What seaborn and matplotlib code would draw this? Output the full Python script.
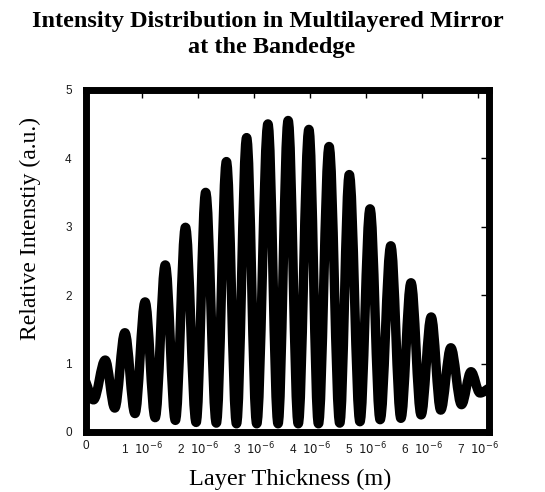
import numpy as np
import pandas as pd
import matplotlib
matplotlib.use("Agg")
import matplotlib.pyplot as plt
from matplotlib.path import Path
from matplotlib.patches import PathPatch
import seaborn as sns

# Layer thickness (units of 1e-6 m) at the curve's peaks/troughs
thickness_um = [0.00, 0.14, 0.35, 0.52, 0.70, 0.88, 1.06, 1.24, 1.42, 1.60,
                1.78, 1.97, 2.14, 2.33, 2.51, 2.69, 2.87, 3.05, 3.25, 3.43,
                3.61, 3.79, 3.98, 4.15, 4.34, 4.53, 4.70, 4.89, 5.07, 5.25,
                5.44, 5.62, 5.80, 5.98, 6.16, 6.33, 6.51, 6.70, 6.87, 7.03,
                7.19]
intensity = [0.74, 0.47, 1.05, 0.35, 1.45, 0.27, 1.90, 0.21, 2.44, 0.17,
             2.99, 0.14, 3.50, 0.13, 3.95, 0.12, 4.30, 0.12, 4.50, 0.12,
             4.55, 0.12, 4.42, 0.12, 4.17, 0.13, 3.76, 0.15, 3.26, 0.18,
             2.72, 0.20, 2.18, 0.25, 1.68, 0.32, 1.23, 0.40, 0.88, 0.57,
             0.64]

xtick_vals = [0, 1, 2, 3, 4, 5, 6, 7]
xtick_labels = ["0", "1  $10^{-6}$", "2  $10^{-6}$", "3  $10^{-6}$", "4  $10^{-6}$",
                "5  $10^{-6}$", "6  $10^{-6}$", "7  $10^{-6}$"]
ytick_vals = [0, 1, 2, 3, 4, 5]

df = pd.DataFrame({"x": np.array(thickness_um) * 1e-6, "y": intensity})

sns.set_style("white")
plt.rcParams["font.family"] = ["Liberation Sans", "DejaVu Sans"]
plt.rcParams["text.color"] = "black"

W, H = 545, 492
fig = plt.figure(figsize=(W / 100, H / 100), dpi=100)
L, R, T, B = 85.6, 488.7, 89.7, 432.0
ax = fig.add_axes([L / W, 1 - B / H, (R - L) / W, (B - T) / H])

# Smooth curve through the read extrema (horizontal tangents at peaks/troughs),
# drawn in data coordinates of the axes.
xs = df["x"].to_numpy()
ys = df["y"].to_numpy()
k = 0.3642
verts = [(xs[0], ys[0])]
codes = [Path.MOVETO]
n = len(xs)
for i in range(n - 1):
    x0, y0, x1, y1 = xs[i], ys[i], xs[i + 1], ys[i + 1]
    dx = x1 - x0
    if i == 0:
        c1 = (x0 + dx / 3, y0 + (y1 - y0) / 3)
    else:
        c1 = (x0 + k * dx, y0)
    if i == n - 2:
        c2 = (x1 - dx / 3, y1 - (y1 - y0) / 3)
    else:
        c2 = (x1 - k * dx, y1)
    verts += [c1, c2, (x1, y1)]
    codes += [Path.CURVE4] * 3
curve = PathPatch(Path(verts, codes), facecolor="none", edgecolor="black",
                  linewidth=6.8, joinstyle="round", capstyle="butt",
                  transform=ax.transData, clip_on=True)
ax.add_patch(curve)

ax.set_xlim(0, 7.185e-6)
ax.set_ylim(0, 5)
ax.set_xticks([v * 1e-6 for v in xtick_vals])
ax.set_xticklabels(xtick_labels)
ax.set_yticks(ytick_vals)
ax.set_yticklabels([str(v) for v in ytick_vals])
ax.set_xlabel("")
ax.set_ylabel("")

for s in ax.spines.values():
    s.set_visible(True)
    s.set_color("black")
    s.set_linewidth(5.0)

ax.tick_params(direction="in", length=5.5, width=1, colors="black",
               top=True, right=True, labelsize=8.5, labelcolor="#1a1a1a")
ax.tick_params(axis="x", pad=6)
ax.tick_params(axis="y", pad=10)
ax.grid(False)

serif = ["Liberation Serif", "DejaVu Serif"]
fig.text(268 / W, 1 - 26.7 / H, "Intensity Distribution in Multilayered Mirror",
         ha="center", va="baseline", fontsize=17.5, fontweight="bold", family=serif,
         color="black")
fig.text(272 / W, 1 - 53.3 / H, "at the Bandedge",
         ha="center", va="baseline", fontsize=17.5, fontweight="bold", family=serif,
         color="black")
fig.text(290 / W, 1 - 485 / H, "Layer Thickness (m)", ha="center", va="baseline",
         fontsize=17.5, family=serif, color="black")
fig.text(30 / W, 1 - 228 / H, "Relative Intenstiy (a.u.)", ha="center", va="center",
         rotation=90, fontsize=17, family=serif, color="black")

fig.savefig("out.png", dpi=100)
